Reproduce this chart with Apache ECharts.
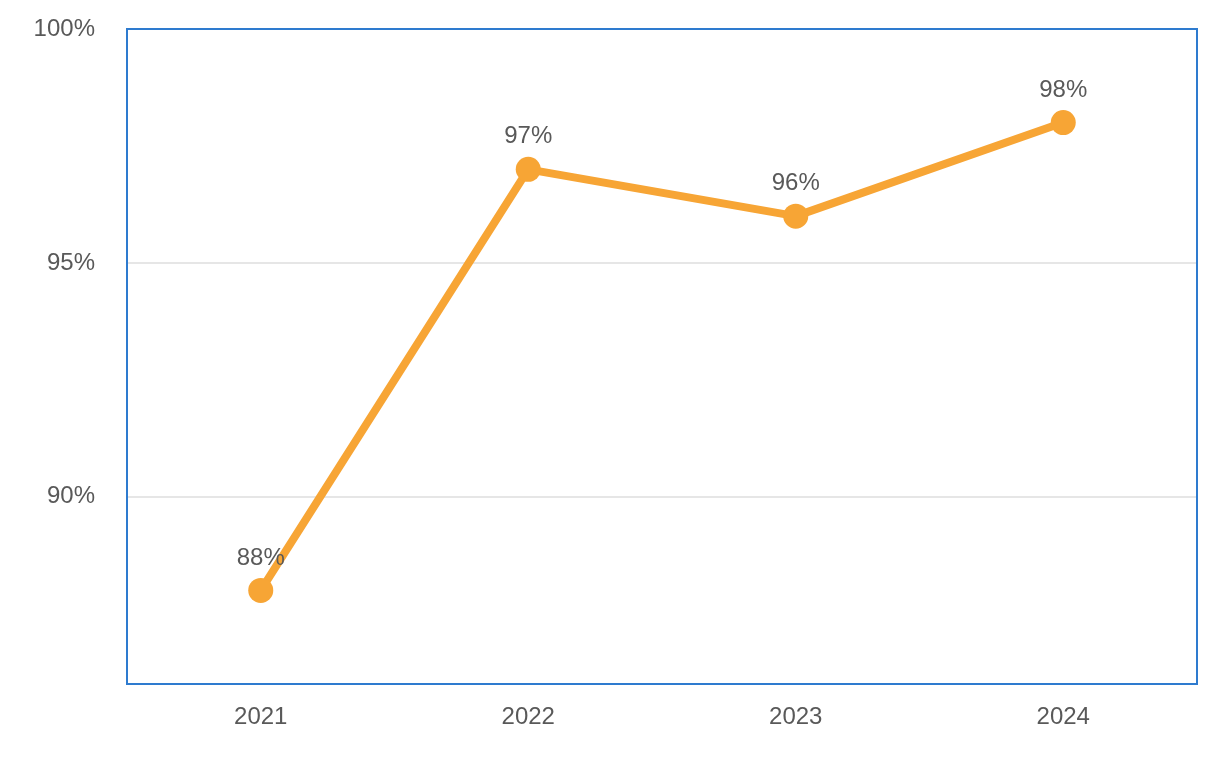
<!DOCTYPE html>
<html>
<head>
<meta charset="utf-8">
<script src="https://cdn.jsdelivr.net/npm/echarts@6/dist/echarts.min.js"></script>
<style>html,body{margin:0;padding:0;background:#fff;}#main{width:1226px;height:760px;}</style>
</head>
<body>
<div id="main"></div>
<script>
const categories = ['2021', '2022', '2023', '2024'];
const values = [88, 97, 96, 98];
const yTickLabels = [90, 95, 100];

const chart = echarts.init(document.getElementById('main'));
chart.setOption({
  animation: false,
  backgroundColor: '#ffffff',
  grid: {
    left: 127, right: 29, top: 29, bottom: 76,
    show: true, borderColor: '#2e7bcf', borderWidth: 2, backgroundColor: 'transparent', z: 5
  },
  xAxis: {
    type: 'category',
    data: categories,
    boundaryGap: true,
    axisLine: { show: false },
    axisTick: { show: false },
    axisLabel: { color: '#595959', fontSize: 24, margin: 21, fontFamily: 'Liberation Sans, Arial, sans-serif' }
  },
  yAxis: {
    type: 'value',
    min: 86, max: 100, interval: 1,
    axisLine: { show: false },
    axisTick: { show: false },
    axisLabel: {
      color: '#595959', fontSize: 24, margin: 32, fontFamily: 'Liberation Sans, Arial, sans-serif',
      padding: [6, 0, 0, 0],
      formatter: function (v) { return yTickLabels.indexOf(v) >= 0 ? v + '%' : ''; }
    },
    splitLine: {
      show: true, showMaxLine: false, showMinLine: true,
      lineStyle: { color: ['rgba(0,0,0,0)', 'rgba(0,0,0,0)', 'rgba(0,0,0,0)', 'rgba(0,0,0,0)', '#e6e6e6'], width: 2 }
    }
  },
  series: [{
    type: 'line',
    data: values,
    symbol: 'circle',
    symbolSize: 25,
    lineStyle: { color: '#F7A535', width: 8 },
    itemStyle: { color: '#F7A535' },
    label: {
      show: true, position: 'top', distance: 8,
      color: '#595959', fontSize: 24, fontFamily: 'Liberation Sans, Arial, sans-serif',
      formatter: function (p) { return p.value + '%'; }
    }
  }]
});
</script>
</body>
</html>
